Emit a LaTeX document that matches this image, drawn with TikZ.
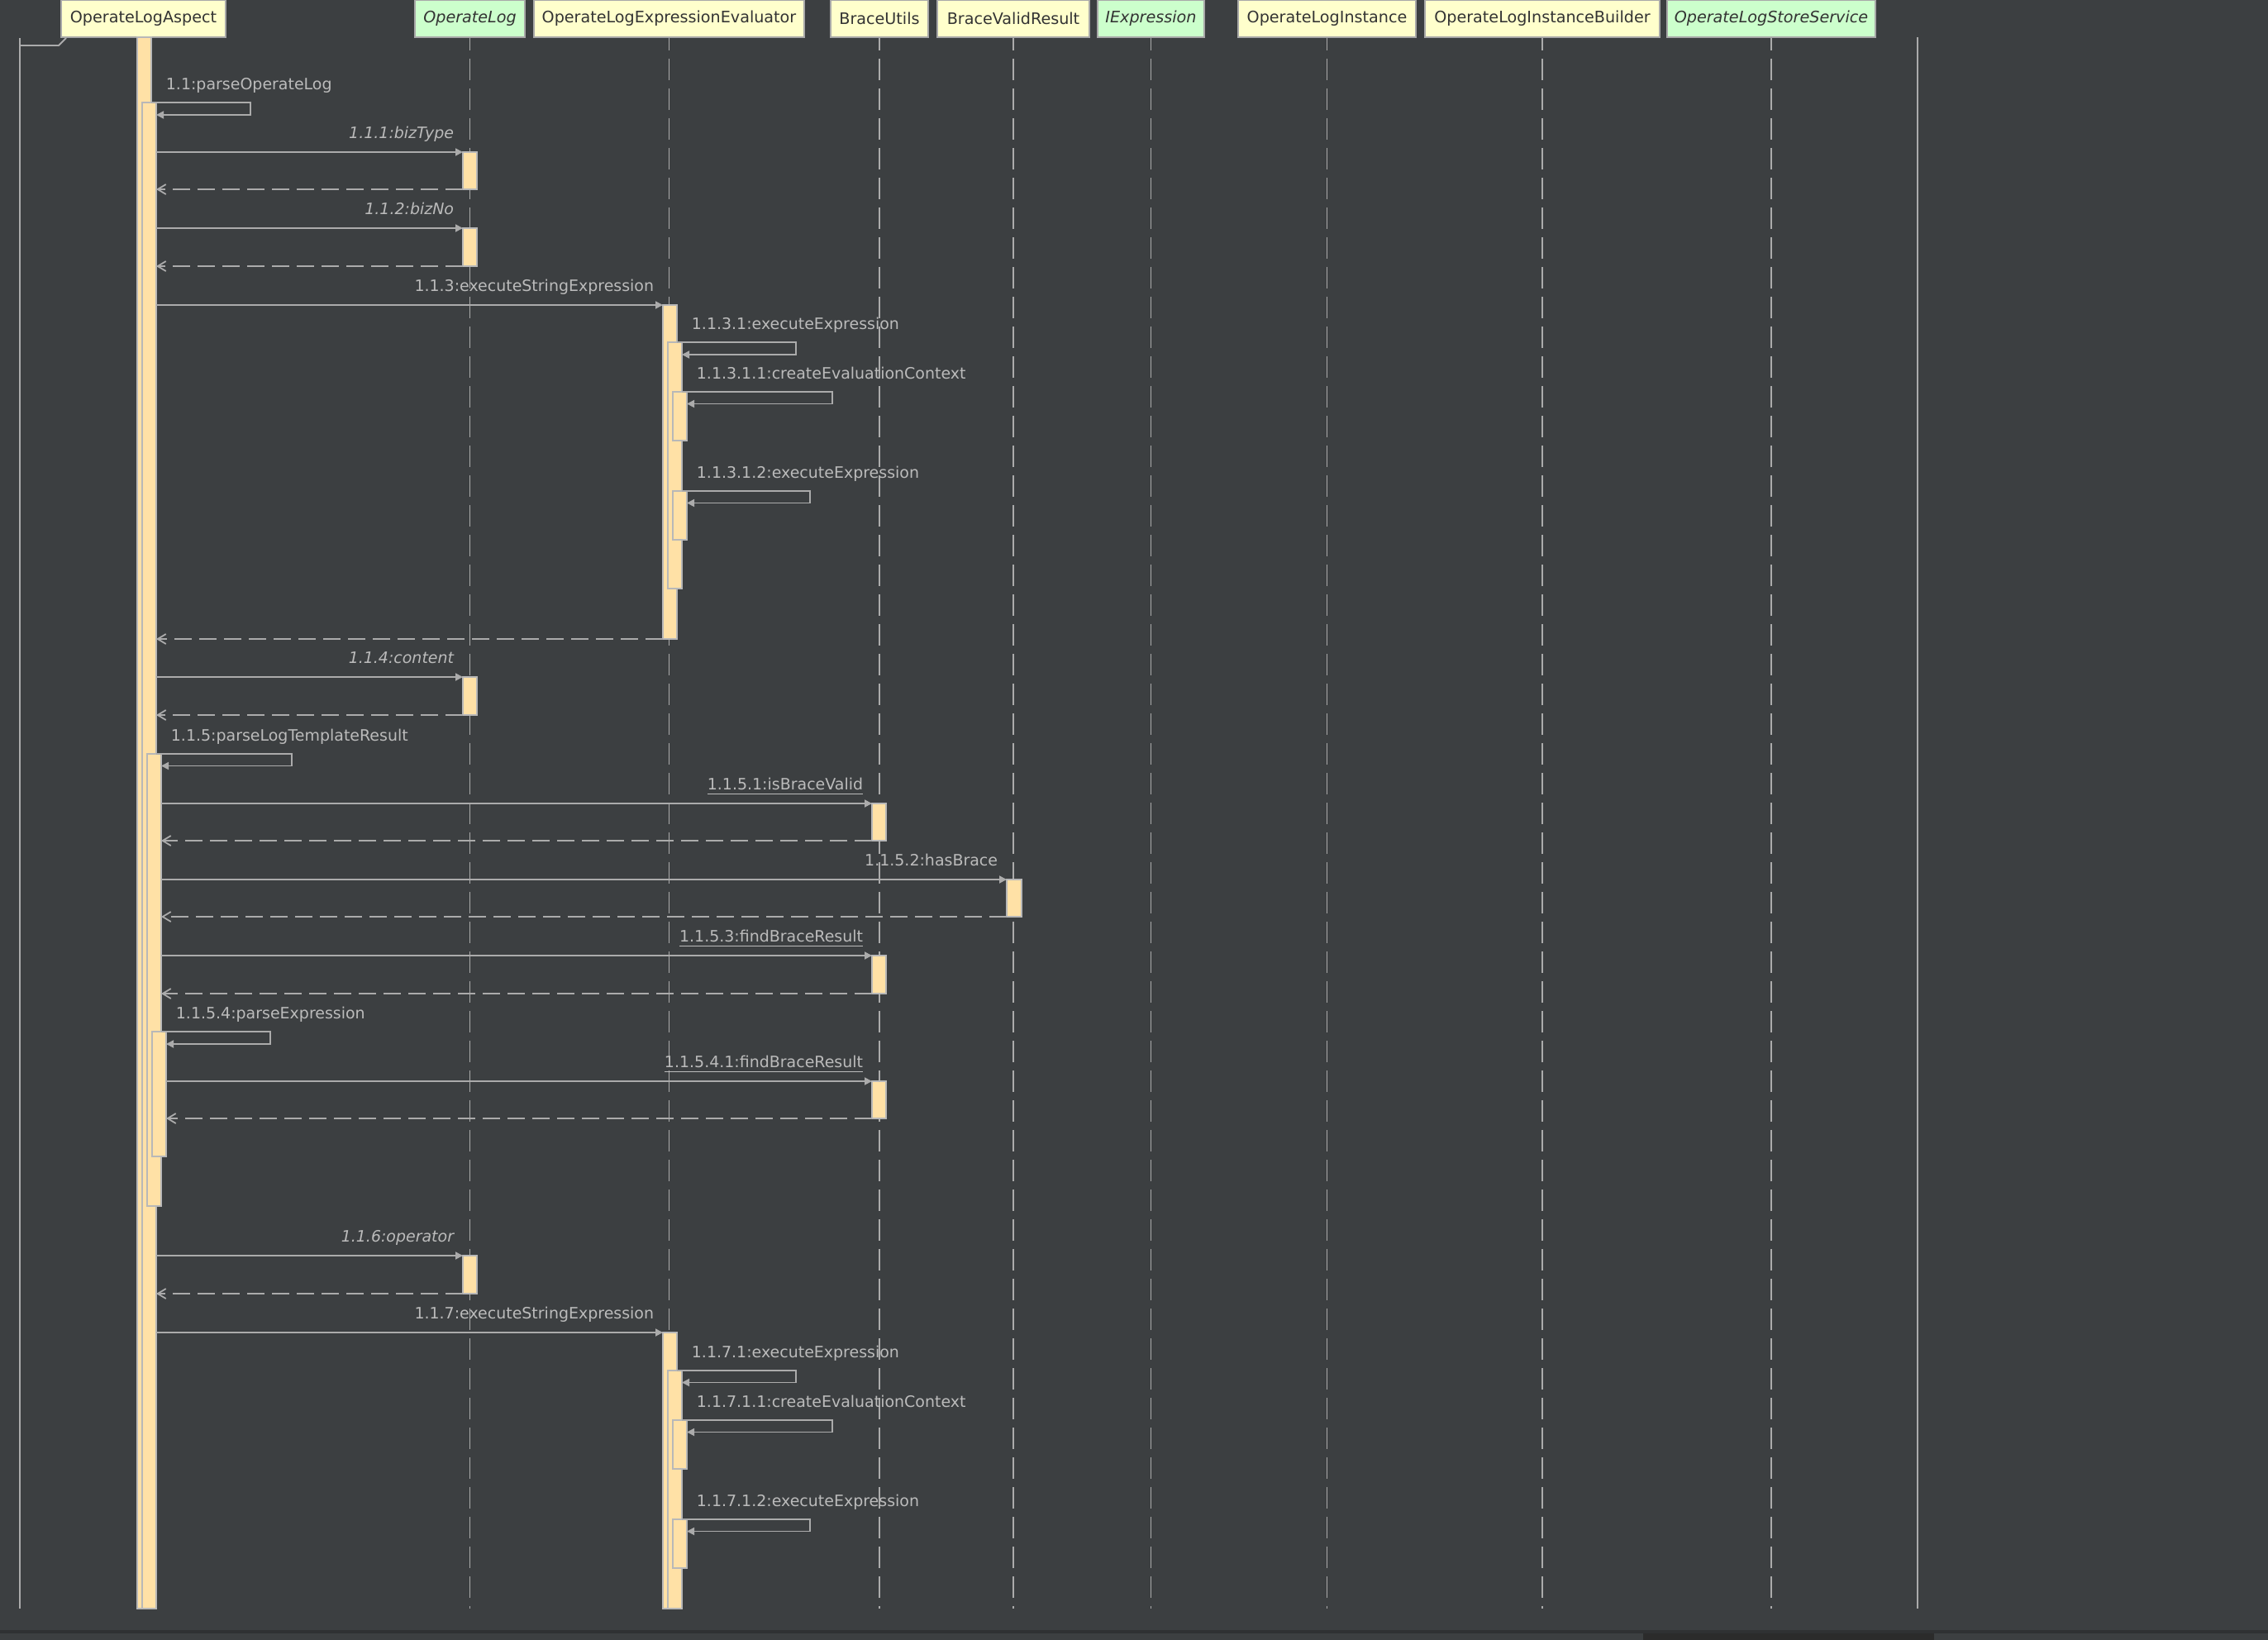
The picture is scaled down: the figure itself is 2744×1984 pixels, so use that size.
\documentclass[tikz,border=0pt]{standalone}
\usepackage{fontspec}
\setmainfont{DejaVu Sans}
\usetikzlibrary{arrows.meta, fit}
\definecolor{canvas}{HTML}{3C3F41}
\definecolor{msgline}{HTML}{ABABAB}
\definecolor{msgtext}{HTML}{BBBBBB}
\definecolor{barfill}{HTML}{FFE1A6}
\definecolor{barline}{HTML}{B8B8B8}
\definecolor{headyellow}{HTML}{FFFFCC}
\definecolor{headgreen}{HTML}{CCFFCC}
\definecolor{headline}{HTML}{A8A8A8}
\definecolor{headtext}{HTML}{333333}
\definecolor{statusband}{HTML}{2F3133}
\definecolor{scrollthumb}{HTML}{2B2B2B}
\tikzset{
    seqdiagram/.style={x=0.1mm, y=-0.1mm, font=\fontsize{5.4}{6.5}\selectfont, line width=0.18mm},
    head/.style={draw=headline, fill=headyellow, text=headtext, minimum height=4.5mm, inner sep=0pt, line width=0.2mm, font=\fontsize{5.45}{6.5}\selectfont},
    iface/.style={head, fill=headgreen, font=\fontsize{5.45}{6.5}\selectfont\itshape},
    lifeline/.style={draw=msgline, dash pattern=on 2.6mm off 1mm, dash phase=1.1mm},
    frame/.style={draw=msgline},
    actbar/.style={draw=barline, fill=barfill, inner sep=0pt, outer sep=0pt},
    call/.style={draw=msgline, -{Triangle[length=0.9mm, width=0.9mm]}},
    selfcall/.style={call},
    ret/.style={draw=msgline, dash pattern=on 2.1mm off 0.9mm, -{Straight Barb[length=1mm, width=1.2mm]}},
    % labels: calls put them above the arrow end, self calls above the loop
    msg/.style={text=msgtext, inner sep=0pt},
    calllbl/.style={msg, anchor=base east, xshift=-1mm, yshift=1.65mm},
    selflbl/.style={msg, anchor=base west, xshift=1.7mm, yshift=1.6mm},
}

\begin{document}
\begin{tikzpicture}[seqdiagram]
    \fill[canvas] (0,0) rectangle (2744,1984);
    \useasboundingbox (0,0) rectangle (2744,1984);
    \fill[statusband] (0,1972) rectangle (2744,1976);
    \fill[scrollthumb] (1988,1976) rectangle (2340,1984);

    % frame
    \draw[frame] (24,46) -- (24,1946);
    \draw[frame] (24,55) -- (71,55) -- (80,46);
    \draw[frame] (2320,45) -- (2320,1946);

    % heads
    \node[head, minimum width=19.9mm]  (hAspect)  at (173.5,22.5)  {OperateLogAspect};
    \node[iface, minimum width=13.3mm] (hLog)     at (568.5,22.5)  {OperateLog};
    \node[head, minimum width=32.7mm]  (hEval)    at (809.5,22.5)  {OperateLogExpressionEvaluator};
    \node[head, minimum width=11.8mm]  (hBrace)   at (1064,22.5)   {BraceUtils};
    \node[head, minimum width=18.4mm]  (hValid)   at (1226,22.5)   {BraceValidResult};
    \node[iface, minimum width=12.9mm] (hExpr)    at (1392.5,22.5) {IExpression};
    \node[head, minimum width=21.5mm]  (hInst)    at (1605.5,22.5) {OperateLogInstance};
    \node[head, minimum width=28.4mm]  (hBuilder) at (1866,22.5)   {OperateLogInstanceBuilder};
    \node[iface, minimum width=25.2mm] (hStore)   at (2143,22.5)   {OperateLogStoreService};

    \coordinate (lineend) at (0,1946);
    \draw[lifeline] (hAspect.south)  -- (hAspect.south |- lineend);
    \draw[lifeline] (hLog.south)     -- (hLog.south |- lineend);
    \draw[lifeline] (hEval.south)    -- (hEval.south |- lineend);
    \draw[lifeline] (hBrace.south)   -- (hBrace.south |- lineend);
    \draw[lifeline] (hValid.south)   -- (hValid.south |- lineend);
    \draw[lifeline] (hExpr.south)    -- (hExpr.south |- lineend);
    \draw[lifeline] (hInst.south)    -- (hInst.south |- lineend);
    \draw[lifeline] (hBuilder.south) -- (hBuilder.south |- lineend);
    \draw[lifeline] (hStore.south)   -- (hStore.south |- lineend);

    % activation bars
    \node[actbar, fit={(166,45) (183,1946)}]     (aMain)  {};
    \node[actbar, fit={(172,124) (189,1946)}]    (a11)    {};
    \node[actbar, fit={(178,912) (195,1459)}]    (a115)   {};
    \node[actbar, fit={(184,1248) (201,1399)}]   (a1154)  {};
    \node[actbar, fit={(560,184) (577,229)}]     (l111)   {};
    \node[actbar, fit={(560,276) (577,322)}]     (l112)   {};
    \node[actbar, fit={(560,819) (577,865)}]     (l114)   {};
    \node[actbar, fit={(560,1519) (577,1565)}]   (l116)   {};
    \node[actbar, fit={(802,369) (819,773)}]     (e113)   {};
    \node[actbar, fit={(808,414) (825,712)}]     (e1131)  {};
    \node[actbar, fit={(814,474) (831,533)}]     (e11311) {};
    \node[actbar, fit={(814,594) (831,653)}]     (e11312) {};
    \node[actbar, fit={(802,1612) (819,1946)}]   (e117)   {};
    \node[actbar, fit={(808,1658) (825,1946)}]   (e1171)  {};
    \node[actbar, fit={(814,1718) (831,1777)}]   (e11711) {};
    \node[actbar, fit={(814,1838) (831,1897)}]   (e11712) {};
    \node[actbar, fit={(1055,972) (1072,1017)}]  (u1151)  {};
    \node[actbar, fit={(1218,1064) (1236,1109)}] (v1152)  {};
    \node[actbar, fit={(1055,1156) (1072,1202)}] (u1153)  {};
    \node[actbar, fit={(1055,1308) (1072,1353)}] (u11541) {};

    % 1.1 .. 1.1.2
    \draw[selfcall] (aMain.east |- a11.north) node[selflbl] {1.1:parseOperateLog} -- ++(120,0) |- ([yshift=-1.5mm]a11.north east);
    \draw[call] (a11.east |- l111.north) -- (l111.north west) node[calllbl] {\itshape 1.1.1:bizType};
    \draw[ret] (l111.south west) -- (a11.east |- l111.south);
    \draw[call] (a11.east |- l112.north) -- (l112.north west) node[calllbl] {\itshape 1.1.2:bizNo};
    \draw[ret] (l112.south west) -- (a11.east |- l112.south);

    % 1.1.3
    \draw[call] (a11.east |- e113.north) -- (e113.north west) node[calllbl] {1.1.3:executeStringExpression};
    \draw[selfcall] (e113.east |- e1131.north) node[selflbl] {1.1.3.1:executeExpression} -- ++(144,0) |- ([yshift=-1.5mm]e1131.north east);
    \draw[selfcall] (e1131.east |- e11311.north) node[selflbl] {1.1.3.1.1:createEvaluationContext} -- ++(182,0) |- ([yshift=-1.45mm]e11311.north east);
    \draw[selfcall] (e1131.east |- e11312.north) node[selflbl] {1.1.3.1.2:executeExpression} -- ++(155,0) |- ([yshift=-1.45mm]e11312.north east);
    \draw[ret] (e113.south west) -- (a11.east |- e113.south);

    % 1.1.4
    \draw[call] (a11.east |- l114.north) -- (l114.north west) node[calllbl] {\itshape 1.1.4:content};
    \draw[ret] (l114.south west) -- (a11.east |- l114.south);

    % 1.1.5
    \draw[selfcall] (a11.east |- a115.north) node[selflbl] {1.1.5:parseLogTemplateResult} -- ++(164,0) |- ([yshift=-1.45mm]a115.north east);
    \draw[call] (a115.east |- u1151.north) -- (u1151.north west) node[calllbl] {\underline{1.1.5.1:isBraceValid}};
    \draw[ret] (u1151.south west) -- (a115.east |- u1151.south);
    \draw[call] (a115.east |- v1152.north) -- (v1152.north west) node[calllbl] {1.1.5.2:hasBrace};
    \draw[ret] (v1152.south west) -- (a115.east |- v1152.south);
    \draw[call] (a115.east |- u1153.north) -- (u1153.north west) node[calllbl] {\underline{1.1.5.3:findBraceResult}};
    \draw[ret] (u1153.south west) -- (a115.east |- u1153.south);
    \draw[selfcall] (a115.east |- a1154.north) node[selflbl] {1.1.5.4:parseExpression} -- ++(132,0) |- ([yshift=-1.5mm]a1154.north east);
    \draw[call] (a1154.east |- u11541.north) -- (u11541.north west) node[calllbl] {\underline{1.1.5.4.1:findBraceResult}};
    \draw[ret] (u11541.south west) -- (a1154.east |- u11541.south);

    % 1.1.6
    \draw[call] (a11.east |- l116.north) -- (l116.north west) node[calllbl] {\itshape 1.1.6:operator};
    \draw[ret] (l116.south west) -- (a11.east |- l116.south);

    % 1.1.7
    \draw[call] (a11.east |- e117.north) -- (e117.north west) node[calllbl] {1.1.7:executeStringExpression};
    \draw[selfcall] (e117.east |- e1171.north) node[selflbl] {1.1.7.1:executeExpression} -- ++(144,0) |- ([yshift=-1.45mm]e1171.north east);
    \draw[selfcall] (e1171.east |- e11711.north) node[selflbl] {1.1.7.1.1:createEvaluationContext} -- ++(182,0) |- ([yshift=-1.45mm]e11711.north east);
    \draw[selfcall] (e1171.east |- e11712.north) node[selflbl] {1.1.7.1.2:executeExpression} -- ++(155,0) |- ([yshift=-1.45mm]e11712.north east);
\end{tikzpicture}
\end{document}
